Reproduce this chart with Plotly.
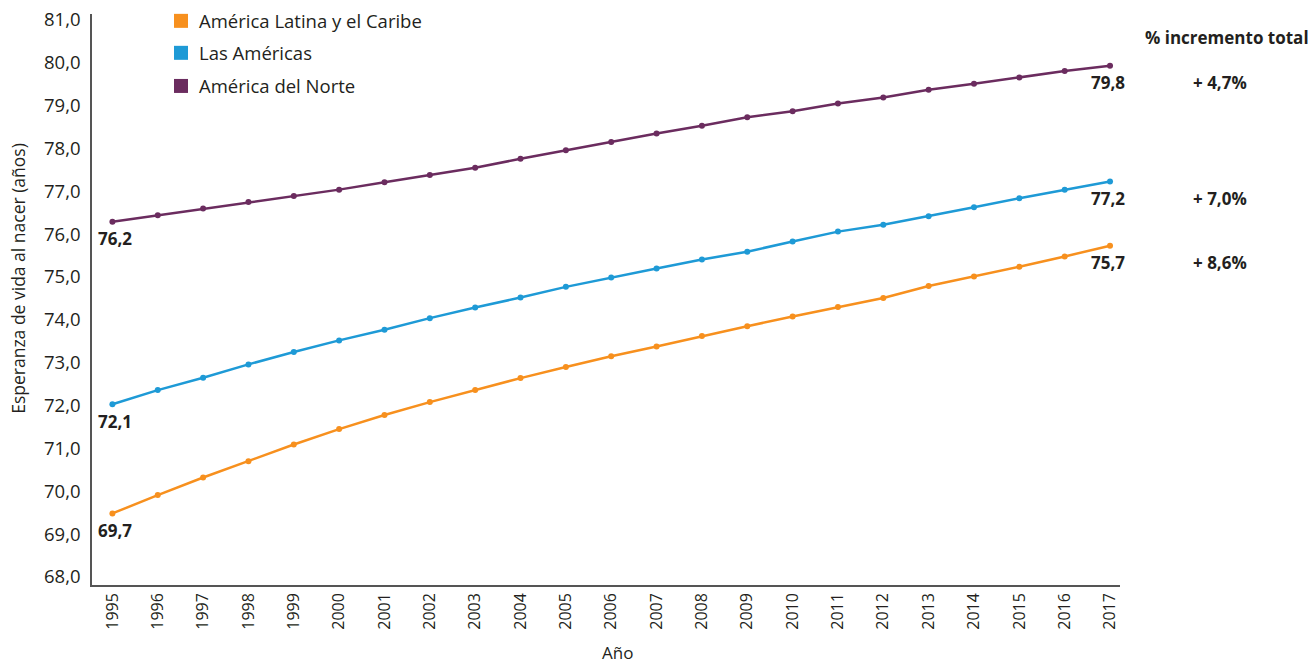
import plotly.graph_objects as go

years = list(range(1995, 2018))
lac = [69.48, 69.91, 70.32, 70.70, 71.09, 71.45, 71.78, 72.08, 72.36, 72.64, 72.90, 73.15,
       73.38, 73.62, 73.85, 74.08, 74.30, 74.51, 74.79, 75.01, 75.24, 75.48, 75.73]
americas = [72.03, 72.36, 72.65, 72.96, 73.25, 73.52, 73.77, 74.04, 74.29, 74.52, 74.77, 74.99,
            75.20, 75.41, 75.59, 75.83, 76.06, 76.22, 76.42, 76.63, 76.84, 77.04, 77.23]
north = [76.29, 76.44, 76.60, 76.75, 76.89, 77.04, 77.21, 77.38, 77.55, 77.76, 77.96, 78.15,
         78.35, 78.53, 78.73, 78.87, 79.05, 79.19, 79.37, 79.51, 79.66, 79.81, 79.93]

series_names = ["América Latina y el Caribe", "Las Américas", "América del Norte"]
series_values = [lac, americas, north]
colors = ["#F7901E", "#1E9AD6", "#6B2C5F"]
start_labels = ["69,7", "72,1", "76,2"]
end_labels = ["75,7", "77,2", "79,8"]
pct_labels = ["+ 8,6%", "+ 7,0%", "+ 4,7%"]
y_ticks = [68, 69, 70, 71, 72, 73, 74, 75, 76, 77, 78, 79, 80, 81]

FONT = "Open Sans"
TXT = "#231F20"

fig = go.Figure()
for name, vals, c in zip(series_names, series_values, colors):
    fig.add_trace(go.Scatter(x=years, y=vals, mode="lines+markers", name=name,
                             line=dict(color=c, width=2.5),
                             marker=dict(color=c, size=6), showlegend=False))

BOLD = dict(family=FONT, size=17, color=TXT, weight="bold")
ann = []
shapes = []
for vals, c, s, e, p in zip(series_values, colors, start_labels, end_labels, pct_labels):
    ann.append(dict(x=years[0], y=vals[0], xref="x", yref="y", text=s, showarrow=False,
                    xanchor="center", yanchor="middle", yshift=-17, xshift=3, font=BOLD))
    ann.append(dict(x=years[-1], y=vals[-1], xref="x", yref="y", text=e, showarrow=False,
                    xanchor="center", yanchor="middle", yshift=-17, xshift=-2, font=BOLD))
    ann.append(dict(x=1.097, y=vals[-1], xref="paper", yref="y", text=p, showarrow=False,
                    xanchor="center", yanchor="middle", yshift=-17, font=BOLD))

ann.append(dict(x=1.104, y=0.958, xref="paper", yref="paper", text="% incremento total",
                showarrow=False, xanchor="center", yanchor="middle", font=BOLD))

# custom legend
leg_y = [0.988, 0.932, 0.874]
for name, c, ly in zip(series_names, colors, leg_y):
    shapes.append(dict(type="rect", xref="paper", yref="paper", xsizemode="pixel",
                       ysizemode="pixel", xanchor=0.0866, yanchor=ly, x0=-7, x1=7, y0=-7, y1=7,
                       fillcolor=c, line=dict(width=0)))
    ann.append(dict(x=0.102, y=ly, xref="paper", yref="paper", text=name, showarrow=False,
                    xanchor="left", yanchor="middle",
                    font=dict(family=FONT, size=18.5, color=TXT)))

# axis titles
ann.append(dict(x=-0.072, y=0.538, xref="paper", yref="paper",
                text="Esperanza de vida al nacer (años)", textangle=-90, showarrow=False,
                xanchor="center", yanchor="middle",
                font=dict(family=FONT, size=17.5, color=TXT)))
ann.append(dict(x=0.511, y=-0.119, xref="paper", yref="paper", text="Año", showarrow=False,
                xanchor="center", yanchor="middle",
                font=dict(family=FONT, size=17, color=TXT)))

fig.update_layout(
    width=1315, height=667,
    margin=dict(l=92, r=195, t=14, b=82, autoexpand=False),
    paper_bgcolor="white", plot_bgcolor="white",
    separators=",.",
    annotations=ann, shapes=shapes,
    xaxis=dict(range=[1994.55, 2017.22], tickmode="array", tickvals=years,
               ticktext=[str(y) for y in years], tickangle=-90, showgrid=False,
               zeroline=False, showline=True, linecolor="#555555", linewidth=1.5,
               ticks="", automargin=False, tickfont=dict(family=FONT, size=16, color=TXT)),
    yaxis=dict(range=[67.81, 81.14], tickmode="array", tickvals=y_ticks,
               tickformat=".1f", showgrid=False, zeroline=False, showline=True,
               linecolor="#555555", linewidth=1.5, ticks="", ticklabelstandoff=6,
               automargin=False, tickfont=dict(family=FONT, size=18.5, color=TXT)),
)

fig.write_html("out.html", config={"displayModeBar": False},
               post_script="document.body.style.margin='0';")
